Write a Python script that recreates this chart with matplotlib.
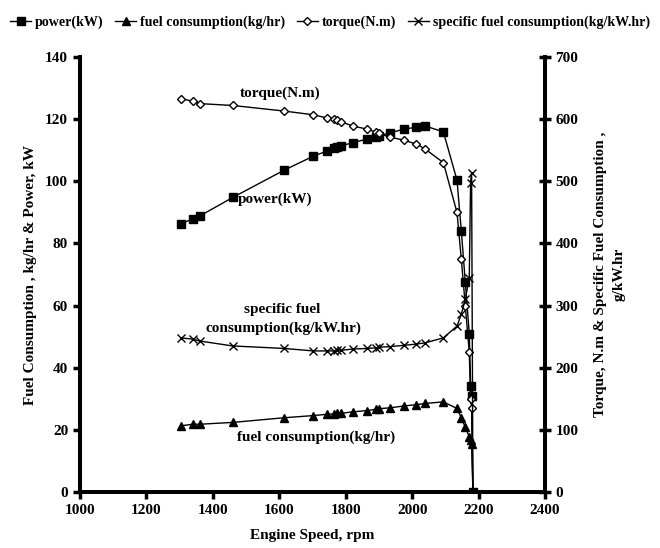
import matplotlib
matplotlib.use('Agg')
import matplotlib.pyplot as plt

plt.rcParams['font.family'] = ['Liberation Serif', 'DejaVu Serif']
plt.rcParams['font.weight'] = 'bold'

# engine speed, rpm
speed = [1304, 1339, 1360, 1460, 1615, 1703, 1743, 1766, 1775, 1785, 1821, 1864, 1891,
         1899, 1934, 1976, 2012, 2039, 2094, 2135, 2148, 2160, 2172, 2176, 2179, 2183]
power = [86.3, 87.9, 88.8, 94.8, 103.6, 108.1, 109.7, 110.8, 111.1, 111.4, 112.4, 113.6, 114.1,
         114.6, 115.6, 116.8, 117.4, 117.8, 115.9, 100.4, 84.1, 67.7, 51.0, 34.2, 31.0, 0]
fuel = [21.3, 21.8, 21.8, 22.4, 23.9, 24.6, 25.0, 25.1, 25.3, 25.3, 25.8, 26.2, 26.6,
        26.8, 27.1, 27.7, 28.1, 28.5, 29.0, 26.9, 23.9, 20.8, 17.8, 16.7, 15.6, 0]
torque = [633, 629, 625, 622, 613, 607, 602, 601, 598, 596, 589, 584, 579,
          577, 571, 566, 560, 552, 530, 450, 375, 300, 225, 150, 135, 0]
sfc = [248, 246, 243, 235, 231, 227, 227, 227, 228, 228, 230, 231, 232,
       233, 234, 236, 238, 240, 248, 267, 286, 310, 345, 498, 514, 0]

fig = plt.figure(figsize=(6.6, 5.48), dpi=100)
ax = fig.add_axes([80 / 660, 1 - 492 / 548, 465 / 660, 435 / 548])
ax2 = ax.twinx()

l1, = ax.plot(speed, power, 'k-', marker='s', ms=6, lw=1, label='power(kW)')
l2, = ax.plot(speed, fuel, 'k-', marker='^', ms=6, lw=1, label='fuel consumption(kg/hr)')
l3, = ax2.plot(speed, torque, 'k-', marker='D', ms=4, mfc='white', mew=1, lw=1, label='torque(N.m)')
l4, = ax2.plot(speed, sfc, 'k-', marker='x', ms=6, mew=1, lw=1,
               label='specific fuel consumption(kg/kW.hr)')

ax.set_xlim(1000, 2400)
ax.set_ylim(0, 140)
ax2.set_ylim(0, 700)
ax.set_xticks(range(1000, 2401, 200))
ax.set_yticks(range(0, 141, 20))
ax2.set_yticks(range(0, 701, 100))

for a in (ax, ax2):
    for s in a.spines.values():
        s.set_linewidth(2.8)
ax.spines['top'].set_visible(False)
ax2.spines['top'].set_visible(False)

ax.tick_params(axis='both', direction='out', length=5, width=2.5, labelsize=11)
ax2.tick_params(axis='y', direction='inout', length=8, width=2.5, labelsize=11)
for lab in ax.get_xticklabels() + ax.get_yticklabels() + ax2.get_yticklabels():
    lab.set_fontweight('bold')

ax.set_xlabel('Engine Speed, rpm', fontsize=11, fontweight='bold', labelpad=9)
ax.set_ylabel('Fuel Consumption , kg/hr & Power, kW', fontsize=11, fontweight='bold', labelpad=6)
ax2.set_ylabel('Torque, N.m & Specific Fuel Consumption ,\ng/kW.hr', fontsize=11,
               fontweight='bold', labelpad=11, rotation=90, linespacing=1.6)

# curve annotations
ax.text(1602, 128.4, 'torque(N.m)', fontsize=11, fontweight='bold', ha='center', va='center')
ax.text(1587, 94.3, 'power(kW)', fontsize=11, fontweight='bold', ha='center', va='center')
ax.text(1608, 58.6, 'specific fuel', fontsize=11, fontweight='bold', ha='center', va='center')
ax.text(1614, 52.8, 'consumption(kg/kW.hr)', fontsize=11, fontweight='bold', ha='center', va='center')
ax.text(1711, 17.7, 'fuel consumption(kg/hr)', fontsize=11, fontweight='bold', ha='center', va='center')

fig.legend(handles=[l1, l2, l3, l4], loc='upper center', bbox_to_anchor=(0.5, 0.995),
           ncol=4, frameon=False, handlelength=1.5, handletextpad=0.3,
           columnspacing=0.8, prop={'weight': 'bold', 'size': 10.1})

fig.savefig('out.png', dpi=100)
